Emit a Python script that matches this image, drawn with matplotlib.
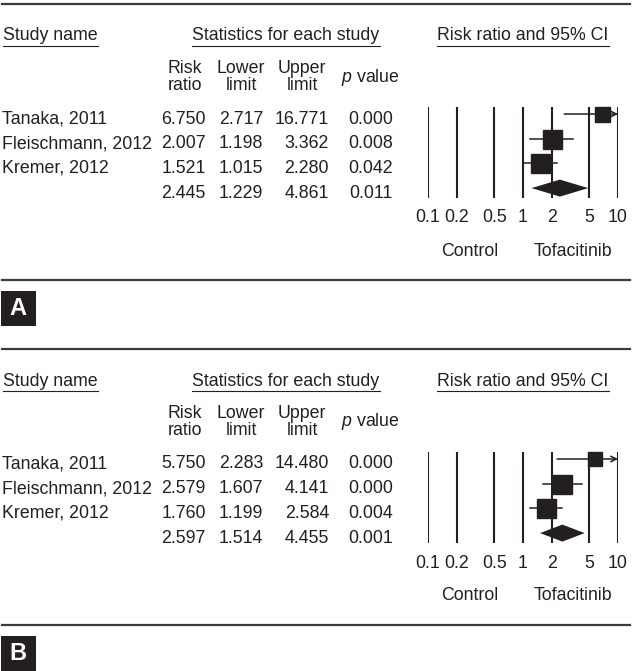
import numpy as np
import matplotlib
matplotlib.use("Agg")
import matplotlib.pyplot as plt
from matplotlib.lines import Line2D
from matplotlib.patches import Rectangle

plt.rcParams['font.family'] = ['Liberation Sans', 'DejaVu Sans']
plt.rcParams['mathtext.fontset'] = 'custom'
plt.rcParams['mathtext.it'] = 'Liberation Sans:italic'
plt.rcParams['mathtext.rm'] = 'Liberation Sans'

# data
studies = ["Tanaka, 2011", "Fleischmann, 2012", "Kremer, 2012"]

rr_a = [6.750, 2.007, 1.521]
lo_a = [2.717, 1.198, 1.015]
hi_a = [16.771, 3.362, 2.280]
p_a = [0.000, 0.008, 0.042]
pool_a = [2.445, 1.229, 4.861, 0.011]
wt_a = [15, 19, 19]     # box size (weight)

rr_b = [5.750, 2.579, 1.760]
lo_b = [2.283, 1.607, 1.199]
hi_b = [14.480, 4.141, 2.584]
p_b = [0.000, 0.000, 0.004]
pool_b = [2.597, 1.514, 4.455, 0.001]
wt_b = [14, 19, 19]

ticks = [0.1, 0.2, 0.5, 1, 2, 5, 10]
tick_labels = ["0.1", "0.2", "0.5", "1", "2", "5", "10"]

W, H = 633, 671
ink = "#231f20"
fs = 12.8

fig = plt.figure(figsize=(W / 100, H / 100), dpi=100)

def fx(px):
    return px / W

def fy(py):
    return 1 - py / H

def hline(x0, x1, y, lw=1.0, color=ink):
    fig.add_artist(Line2D([fx(x0), fx(x1)], [fy(y), fy(y)], lw=lw, color=color,
                          transform=fig.transFigure))

row_dy = 24.7

def panel(off, rr, lo, hi, p, pool, wt, letter):
    hline(2, 630, 3.5 + off, lw=1.6, color="#3a3a3a")

    # headers
    r = fig.canvas.get_renderer()
    for txt, x, ha in [("Study name", 3, "left"),
                       ("Statistics for each study", 286, "center"),
                       ("Risk ratio and 95% CI", 523, "center")]:
        t = fig.text(fx(x), fy(36 + off), txt, ha=ha, va="center", fontsize=fs, color=ink)
        bb = t.get_window_extent(renderer=r)
        hline(bb.x0, bb.x1, 46 + off, lw=0.8)

    for txt, x in [("Risk\nratio", 185), ("Lower\nlimit", 241), ("Upper\nlimit", 302)]:
        fig.text(fx(x), fy(77 + off), txt, ha="center", va="center",
                 fontsize=fs, color=ink, linespacing=1.0)
    fig.text(fx(370), fy(77 + off), r"$\mathit{p}$ value", ha="center", va="center",
             fontsize=fs, color=ink)

    # table rows
    rows = list(zip(studies + [""], rr + [pool[0]], lo + [pool[1]], hi + [pool[2]], p + [pool[3]]))
    for i, (name, a, b, c, d) in enumerate(rows):
        y = fy(119 + off + row_dy * i)
        fig.text(fx(2), y, name, ha="left", va="center", fontsize=fs, color=ink)
        for val, xr in zip([a, b, c, d], [206, 263, 329, 393]):
            fig.text(fx(xr), y, f"{val:.3f}", ha="right", va="center", fontsize=fs, color=ink)

    # forest plot
    top, bot = 100 + off, 206 + off
    ax = fig.add_axes([fx(428), fy(bot), fx(618) - fx(428), (bot - top) / H])
    ax.set_xscale("log")
    ax.set_xlim(0.1, 10)
    y0 = 114 + off
    ax.set_ylim((bot - y0) / row_dy, (top - y0) / row_dy)
    ax.axis("off")
    ax.vlines(ticks, (107 + off - y0) / row_dy, (198 + off - y0) / row_dy,
              color=ink, lw=1.5)
    for i in range(len(rr)):
        if hi[i] > 10:
            ax.annotate("", xy=(10, i), xytext=(lo[i], i),
                        arrowprops=dict(arrowstyle="->", color=ink, lw=1.1,
                                        shrinkA=0, shrinkB=0, mutation_scale=10))
        else:
            ax.plot([lo[i], hi[i]], [i, i], color=ink, lw=1.1)
        ax.plot(rr[i], i, "s", ms=wt[i] * 0.72, color=ink, mec=ink)
    h = 8.5 / row_dy
    k = len(rr)
    ax.fill([pool[1], pool[0], pool[2], pool[0]], [k, k - h, k, k + h], color=ink, lw=0)
    for t, lab in zip(ticks, tick_labels):
        ax.text(t, (218 + off - y0) / row_dy, lab, ha="center", va="center",
                fontsize=fs, color=ink, clip_on=False)

    fig.text(fx(470), fy(251 + off), "Control", ha="center", va="center", fontsize=fs, color=ink)
    fig.text(fx(573), fy(251 + off), "Tofacitinib", ha="center", va="center", fontsize=fs, color=ink)

    hline(2, 630, 280 + off, lw=1.6, color="#3a3a3a")

    # panel letter
    fig.add_artist(Rectangle((fx(0.5), fy(325.5 + off)), fx(35), 35 / H,
                             transform=fig.transFigure, color=ink, lw=0))
    fig.text(fx(18), fy(308 + off), letter, ha="center", va="center",
             fontsize=17, color="white", fontweight="bold")

panel(0, rr_a, lo_a, hi_a, p_a, pool_a, wt_a, "A")
panel(345, rr_b, lo_b, hi_b, p_b, pool_b, wt_b, "B")

fig.savefig("out.png", dpi=100)
